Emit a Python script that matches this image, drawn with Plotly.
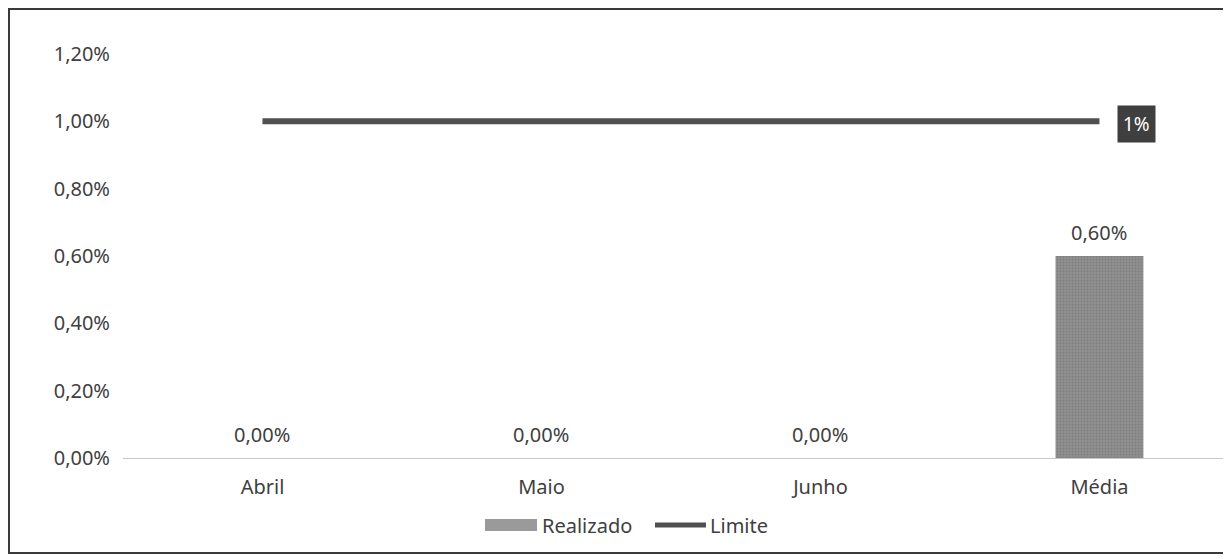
import plotly.graph_objects as go

categorias = ["Abril", "Maio", "Junho", "Média"]
realizado = [0.0, 0.0, 0.0, 0.006]
limite = [0.01, 0.01, 0.01, 0.01]
rotulo_limite = "1%"
rotulos_realizado = ["0,00%", "0,00%", "0,00%", "0,60%"]

W, H = 1231, 559
OFF = 8  # page body margin
L, R, T, B = 115, 14, 46, 109
pw = W - L - R
ph = H - T - B
FONT = "Noto Sans"
TXT = "#404040"


def px(xs):
    return (xs - OFF - L) / pw


def py(ys):
    return (H - B - (ys - OFF)) / ph


fig = go.Figure()
fig.add_trace(go.Bar(
    x=categorias, y=realizado, name="Realizado",
    marker=dict(color="#8a8a8a", line=dict(width=0),
                pattern=dict(shape=".", fgcolor="#707070", bgcolor="#909090", size=3, solidity=0.4)),
    width=0.315, showlegend=False,
))
fig.add_trace(go.Scatter(
    x=categorias, y=limite, name="Limite", mode="lines",
    line=dict(color="#505050", width=6), showlegend=False,
))

for c, v, t in zip(categorias, realizado, rotulos_realizado):
    fig.add_annotation(x=c, y=v, text=t, showarrow=False, yanchor="middle", yshift=24,
                       font=dict(size=20, color=TXT, family=FONT))

fig.add_annotation(
    x=categorias[-1], y=limite[-1], text=rotulo_limite, showarrow=False,
    xshift=37, yshift=-3, bgcolor="#3f3f3f", font=dict(color="white", size=19, family=FONT),
    borderpad=5,
)

# frame
fig.add_shape(type="rect", xref="paper", yref="paper",
              x0=px(9), x1=px(1245), y0=py(553), y1=py(9),
              line=dict(color="#3a3a3a", width=2), layer="below")

# legend (drawn)
fig.add_shape(type="rect", xref="paper", yref="paper",
              x0=px(485), x1=px(537), y0=py(531), y1=py(519),
              fillcolor="#9a9a9a", line=dict(width=0))
fig.add_annotation(xref="paper", yref="paper", x=px(540), y=py(525), xanchor="left", yanchor="middle",
                   text="Realizado", showarrow=False, font=dict(size=20, color=TXT, family=FONT))
fig.add_shape(type="line", xref="paper", yref="paper",
              x0=px(655), x1=px(706), y0=py(525), y1=py(525),
              line=dict(color="#505050", width=5))
fig.add_annotation(xref="paper", yref="paper", x=px(708), y=py(525), xanchor="left", yanchor="middle",
                   text="Limite", showarrow=False, font=dict(size=20, color=TXT, family=FONT))

fig.update_layout(
    width=W, height=H,
    margin=dict(l=L, r=R, t=T, b=B, autoexpand=False),
    paper_bgcolor="white", plot_bgcolor="white",
    separators=",.",
    font=dict(family=FONT, size=20, color=TXT),
    showlegend=False,
    xaxis=dict(range=[-0.5, 3.45], showgrid=False, showline=True, linecolor="#c8c8c8",
               linewidth=1, ticks="", ticklabelstandoff=11,
               tickfont=dict(size=20, color=TXT, family=FONT)),
    yaxis=dict(range=[0, 0.012], tickformat=".2%", dtick=0.002, showgrid=False,
               zeroline=False, showline=False, ticks="", ticklabelstandoff=12,
               tickfont=dict(size=20, color=TXT, family=FONT)),
)

fig.write_html("out.html")
